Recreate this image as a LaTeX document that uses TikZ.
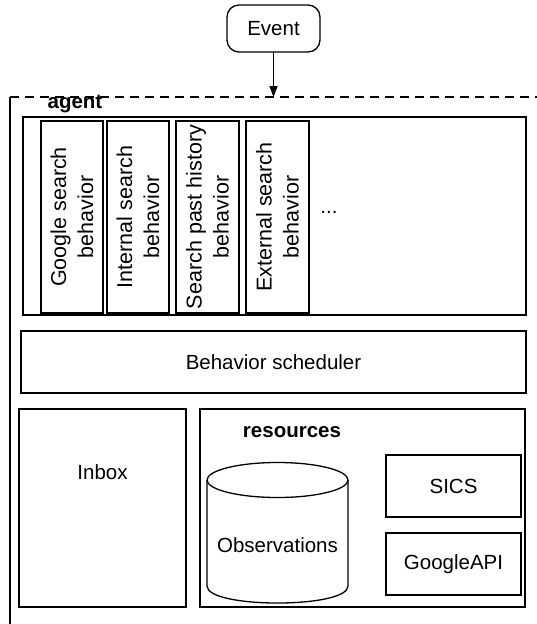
\documentclass[tikz,border=0pt]{standalone}
\usepackage{fontspec}
\setmainfont{Liberation Sans}
\usetikzlibrary{arrows.meta}
\begin{document}
\begin{tikzpicture}[x=1pt,y=-1pt,line width=1.3pt,
  box/.style={draw,line width=1.3pt,inner sep=0pt,outer sep=0pt,anchor=center,
    font=\fontsize{20.5}{25}\selectfont},
  behbox/.style={box,minimum height=192pt,minimum width=62pt},
  rtext/.style={rotate=90,align=center,inner sep=0pt,
    font=\fontsize{21.5}{27}\selectfont},
  txt/.style={inner sep=0pt,font=\fontsize{20.5}{25}\selectfont},
  btxt/.style={inner sep=0pt,font=\fontsize{20.5}{25}\selectfont\bfseries},
  dashline/.style={line width=1.3pt,dash pattern=on 9pt off 6pt}]
\useasboundingbox (0,0) rectangle (537,624);

% event
\node[box,rounded corners=12pt,minimum width=93pt,minimum height=47pt] (event) at (273.5,28.5) {Event};
\coordinate (hit) at (273.5,97);
\coordinate (dl) at (10,97);
\coordinate (dr) at (537,97);
\coordinate (bl) at (10,624);
\draw[dashline] (dl) -- (dr);
\draw (dl) -- (bl);
\draw[line width=1.2pt,-{Triangle[length=11pt,width=8pt]}] (event.south) -- (hit);

\node[btxt,anchor=base west] (agent) at (47,108) {agent};

% behaviors
\node[box,minimum width=503pt,minimum height=198pt] (behaviors) at (274.5,216) {};
\node[behbox] (google) at (72,217) {};
\node[rtext] (googlet) at (google.center) {Google search\\behavior};
\node[behbox] (internal) at (138,217) {};
\node[rtext] (internalt) at (internal.center) {Internal search\\behavior};
\node[behbox,minimum width=63pt] (past) at (207.5,217) {};
\node[rtext] (pastt) at (past.center) {Search past history\\behavior};
\node[behbox,minimum width=63pt] (external) at (277.5,217) {};
\node[rtext] (externalt) at (external.center) {External search\\behavior};
\node[txt] (dots) at (329,212) {...};

% scheduler
\node[box,minimum width=505pt,minimum height=62pt] (sched) at (273.5,362) {Behavior scheduler};

% inbox
\node[box,minimum width=167pt,minimum height=198pt] (inbox) at (102.5,508) {};
\node[txt] (inboxt) at (102.5,472) {Inbox};

% resources
\node[box,minimum width=325pt,minimum height=198pt] (res) at (362.5,508) {};
\node[btxt,anchor=base] (rest) at (292,437) {resources};

% cylinder
\draw (207,480) -- (207,586) .. controls (207,608.7) and (348,608.7) .. (348,586) -- (348,480);
\draw[fill=white] (277.5,480) ellipse [x radius=70.5pt, y radius=17.5pt];
\node[txt] (obs) at (277.5,545) {Observations};

\node[box,minimum width=135pt,minimum height=62pt] (sics) at (453.5,486) {SICS};
\node[box,minimum width=135pt,minimum height=62pt] (gapi) at (453.5,564) {GoogleAPI};
\end{tikzpicture}
\end{document}
